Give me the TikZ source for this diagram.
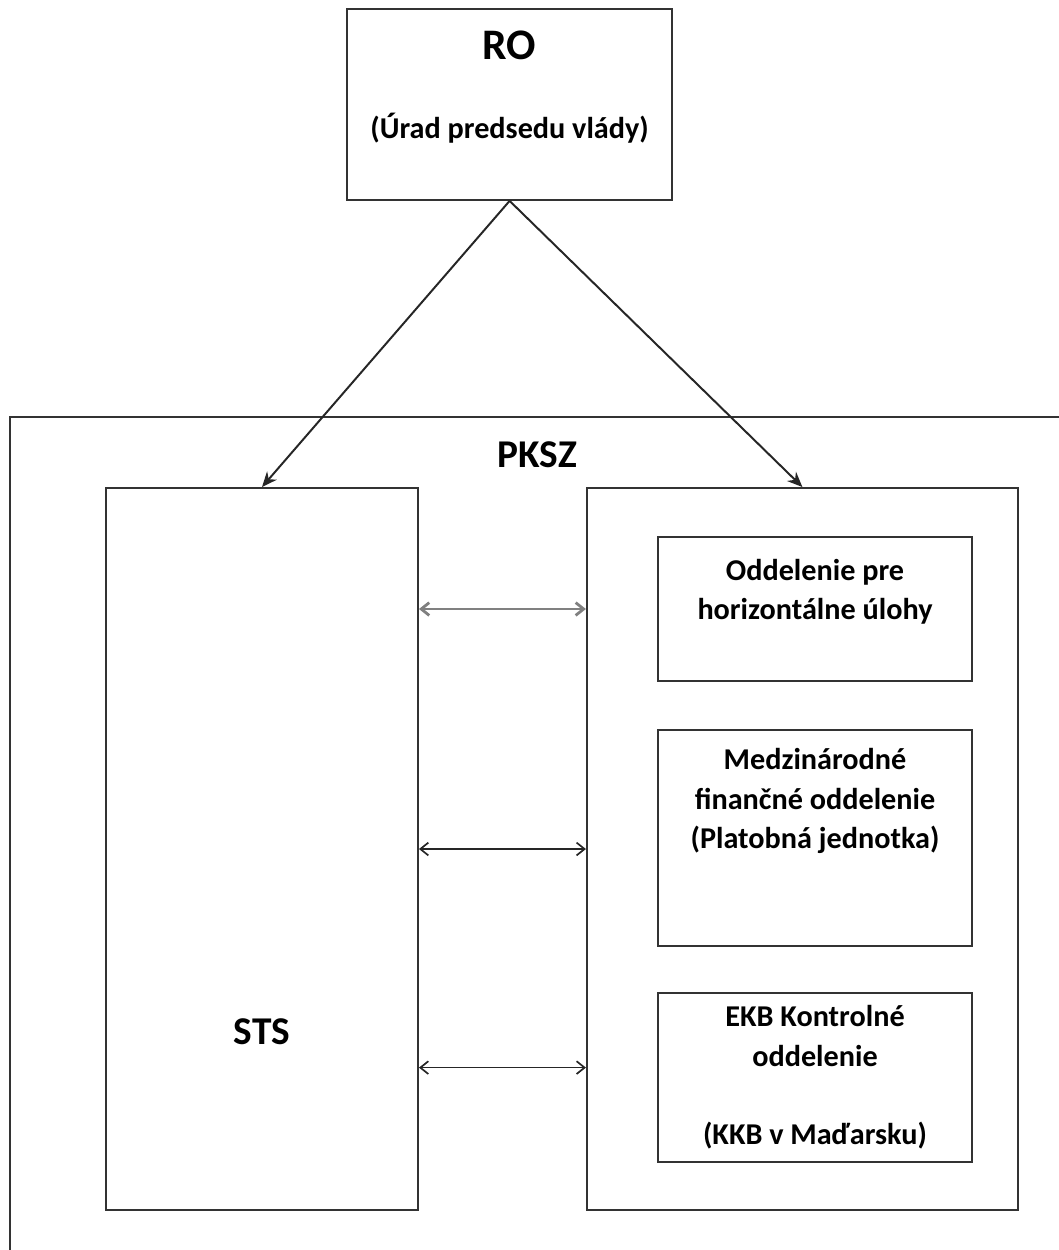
\documentclass[tikz,border=0pt]{standalone}
\usepackage{fontspec}
\setmainfont{Carlito}
\usetikzlibrary{arrows.meta,positioning}
\newcommand{\bodyfont}{\fontsize{21.5}{28}\selectfont\bfseries}
\newcommand{\bigfont}{\fontsize{28}{34}\selectfont\bfseries}

\begin{document}
\begin{tikzpicture}
	\tikzstyle{box} = [draw=black!80,line width=1.4pt,inner sep=0,align=center,font=\bodyfont];
	\tikzstyle{link} = [draw=black!85,line width=1.4pt,-{Stealth[length=3.8mm,width=3.2mm]}];
	\tikzstyle{exchange} = [draw=black!85,line width=1.2pt,{Straight Barb[length=2mm,width=3.2mm]}-{Straight Barb[length=2mm,width=3.2mm]}];
	\useasboundingbox (0,0) rectangle (26.475,-31.25);
	\clip (0,0) rectangle (26.475,-31.25);
	\draw[draw=black!80,line width=1.4pt] (27,-10.425) -- (0.25,-10.425) -- (0.25,-32);
	\node at (12.74,-2.61) (ro) [box,minimum width=8.125cm,minimum height=4.775cm] {{\fontsize{31}{34}\selectfont RO}\\[10mm](Úrad predsedu vlády)\\\mbox{}};
	\node at (13.425,-11.375) (pksz) [font=\bigfont] {PKSZ};
	\node at (6.55,-21.225) (sts) [box,minimum width=7.8cm,minimum height=18.05cm] {};
	\node (sts_name) [above=4.15cm of sts.south,inner sep=0,font=\bigfont] {STS};
	\node at (20.06,-21.225) (pksz_units) [box,minimum width=10.775cm,minimum height=18.05cm] {};
	\node at (20.375,-15.225) (unit_horiz) [box,minimum width=7.85cm,minimum height=3.6cm] {Oddelenie pre\\horizontálne úlohy\\\mbox{}};
	\node at (20.375,-20.95) (unit_fin) [box,minimum width=7.85cm,minimum height=5.4cm] {Medzinárodné\\finančné oddelenie\\(Platobná jednotka)\\\mbox{}\\\mbox{}};
	\node at (20.375,-26.94) (unit_ekb) [box,minimum width=7.85cm,minimum height=4.225cm] {EKB Kontrolné\\oddelenie\\\mbox{}\\(KKB v Maďarsku)};
	\draw[link] (ro.south) -- (sts.north);
	\draw[link] (ro.south) -- (pksz_units.north);
	\path (unit_ekb.west) ++(0,0.25) coordinate (ex3);
	\draw[exchange,draw=black!50,line width=2pt] (sts.east |- unit_horiz) -- (pksz_units.west |- unit_horiz);
	\draw[exchange] (sts.east) -- (pksz_units.west);
	\draw[exchange] (sts.east |- ex3) -- (pksz_units.west |- ex3);
\end{tikzpicture}
\end{document}
